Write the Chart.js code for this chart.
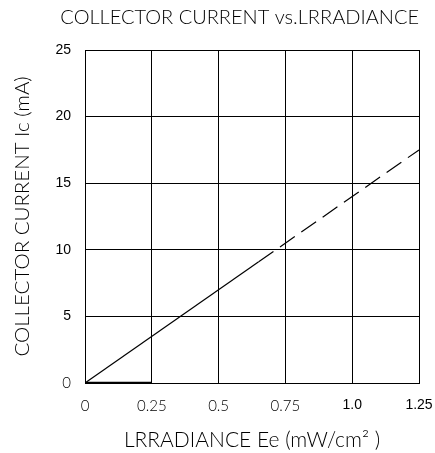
<!DOCTYPE html>
<html><head><meta charset="utf-8">
<script src="https://cdn.jsdelivr.net/npm/chart.js@4/dist/chart.umd.min.js"></script>
<style>html,body{margin:0;padding:0;background:#fff}#wrap{width:435px;height:453px}</style>
</head><body><div id="wrap"><canvas id="c"></canvas></div>
<script>
const xTicks = [0, 0.25, 0.5, 0.75, 1.0, 1.25];
const xTickLabels = ["0", "0.25", "0.5", "0.75", "1.0", "1.25"];
const yTicks = [0, 5, 10, 15, 20, 25];
const solidX = [0, 0.65];
const solidY = [0, 9.1];
const dashedX = [0.65, 1.25];
const dashedY = [9.1, 17.5];
const baseX = [0, 0.25];
const baseY = [0, 0];

const thin = "Lato";
const arial = "'Liberation Sans', Arial, sans-serif";
const pts = (xs, ys) => xs.map((x, i) => ({x, y: ys[i]}));

new Chart(document.getElementById('c'), {
  type: 'line',
  data: {
    datasets: [
      {data: pts(solidX, solidY), borderColor: '#000', borderWidth: 1.2, pointRadius: 0, tension: 0},
      {data: pts(dashedX, dashedY), borderColor: '#000', borderWidth: 1.2, pointRadius: 0, borderDash: [18, 8], tension: 0},
      {data: pts(baseX, baseY), borderColor: '#000', borderWidth: 2.5, pointRadius: 0, tension: 0}
    ]
  },
  options: {
    responsive: true, maintainAspectRatio: false, animation: false,
    layout: {padding: {left: 0, right: 16, top: 0, bottom: 0}},
    plugins: {
      legend: {display: false}, tooltip: {enabled: false},
      title: {display: true, text: 'COLLECTOR CURRENT vs.LRRADIANCE', align: 'end', color: '#000',
        font: {family: thin, size: 20, weight: '300', lineHeight: 1.2}, padding: {top: 6, bottom: 20}}
    },
    scales: {
      x: {type: 'linear', min: 0, max: 1.25,
        afterBuildTicks: s => { s.ticks = xTicks.map(v => ({value: v})); },
        afterFit: s => { s.height = 70; s.paddingLeft = 0; s.paddingRight = 0; },
        grid: {color: '#000', lineWidth: 1, drawTicks: false},
        border: {color: '#000', width: 1},
        ticks: {color: '#000', padding: 14, maxRotation: 0,
          callback: (v, i) => xTickLabels[i],
          font: c => (c.index >= 4 ? {family: arial, size: 14} : {family: thin, size: 15, weight: '300'})},
        title: {display: true, text: 'LRRADIANCE Ee (mW/cm² )', color: '#000',
          font: {family: thin, size: 21, weight: '300'}, padding: {top: 8, bottom: 0}}
      },
      y: {type: 'linear', min: 0, max: 25,
        afterBuildTicks: s => { s.ticks = yTicks.map(v => ({value: v})); },
        afterFit: s => { s.width = 85; s.paddingTop = 0; s.paddingBottom = 0; },
        grid: {color: '#000', lineWidth: 1, drawTicks: false},
        border: {color: '#000', width: 1},
        ticks: {color: '#000', padding: 14,
          font: c => (c.index === 0 ? {family: thin, size: 15, weight: '300'} : {family: arial, size: 14})},
        title: {display: true, text: 'COLLECTOR CURRENT Ic (mA)', color: '#000',
          font: {family: thin, size: 20.5, weight: '300'}, padding: {top: 10, bottom: 4}}
      }
    }
  }
});
</script></body></html>
